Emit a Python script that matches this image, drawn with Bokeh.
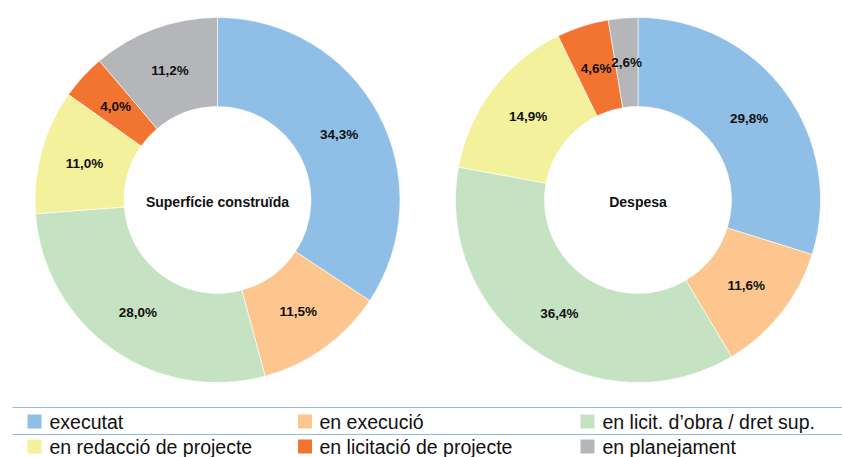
import math
from bokeh.plotting import figure
from bokeh.models import Range1d, ColumnDataSource
from bokeh.core.properties import value
from bokeh.embed import file_html
from bokeh.resources import INLINE

# ---- data ----
categories = ["executat", "en execució", "en licit. d’obra / dret sup.",
              "en redacció de projecte", "en licitació de projecte", "en planejament"]
colors = ["#8FBEE6", "#FDC68F", "#C5E3C2", "#F3F19B", "#F37330", "#B5B6BA"]
superficie = [34.3, 11.5, 28.0, 11.0, 4.0, 11.2]
despesa = [29.8, 11.6, 36.4, 14.9, 4.6, 2.6]
titles = ["Superfície construïda", "Despesa"]

W, H = 842, 457
p = figure(width=W, height=H, output_backend="svg", toolbar_location=None,
           x_range=Range1d(0, W), y_range=Range1d(0, H), min_border=0,
           outline_line_color=None)
p.axis.visible = False
p.grid.visible = False
p.background_fill_color = "white"
p.border_fill_color = "white"

R_OUT, R_IN = 182.5, 93.5
centers = [(217.0, 257.5), (637.5, 257.5)]
FONT = "Liberation Sans"

for (cx, cy), vals, title in zip(centers, [superficie, despesa], titles):
    total = sum(vals)
    starts, ends, lx, ly, labels = [], [], [], [], []
    cum = 0.0
    for v in vals:
        a0 = math.pi / 2 - 2 * math.pi * cum / total
        a1 = math.pi / 2 - 2 * math.pi * (cum + v) / total
        starts.append(a0)
        ends.append(a1)
        mid = (a0 + a1) / 2
        rm = (R_OUT + R_IN) / 2
        lx.append(cx + rm * math.cos(mid))
        ly.append(cy + rm * math.sin(mid))
        labels.append(f"{v:.1f}%".replace(".", ","))
        cum += v
    src = ColumnDataSource(dict(start=starts, end=ends, color=colors))
    p.annular_wedge(x=cx, y=cy, inner_radius=R_IN, outer_radius=R_OUT,
                    start_angle="start", end_angle="end", direction="clock",
                    fill_color="color", line_color="white", line_width=0.6,
                    source=src)
    p.text(x=lx, y=ly, text=labels, text_align="center", text_baseline="middle",
           text_font=value(FONT), text_font_style="bold", text_font_size="13.5px",
           text_color="#111111")
    p.text(x=[cx], y=[cy - 2], text=[title], text_align="center", text_baseline="middle",
           text_font=value(FONT), text_font_style="bold", text_font_size="14px",
           text_color="#111111")

# ---- legend ----
p.segment(x0=[12, 12], y0=[50, 23], x1=[W, W], y1=[50, 23], line_color="#8DB9E3", line_width=1.2)
sq_x = [34, 304.5, 587]
tx_x = [49, 319, 602]
rows_y = [36, 11]
leg_sx, leg_sy, leg_tx, leg_ty = [], [], [], []
for i, c in enumerate(categories):
    r, col = divmod(i, 3)
    leg_sx.append(sq_x[col]); leg_sy.append(rows_y[r])
    leg_tx.append(tx_x[col]); leg_ty.append(rows_y[r])
p.rect(x=leg_sx, y=leg_sy, width=14, height=14, fill_color=colors, line_color=None)
p.text(x=leg_tx, y=leg_ty, text=categories, text_align="left", text_baseline="middle",
       text_font=value(FONT), text_font_size="19.5px", text_color="#111111")

open("out.html", "w").write(file_html(p, INLINE))
